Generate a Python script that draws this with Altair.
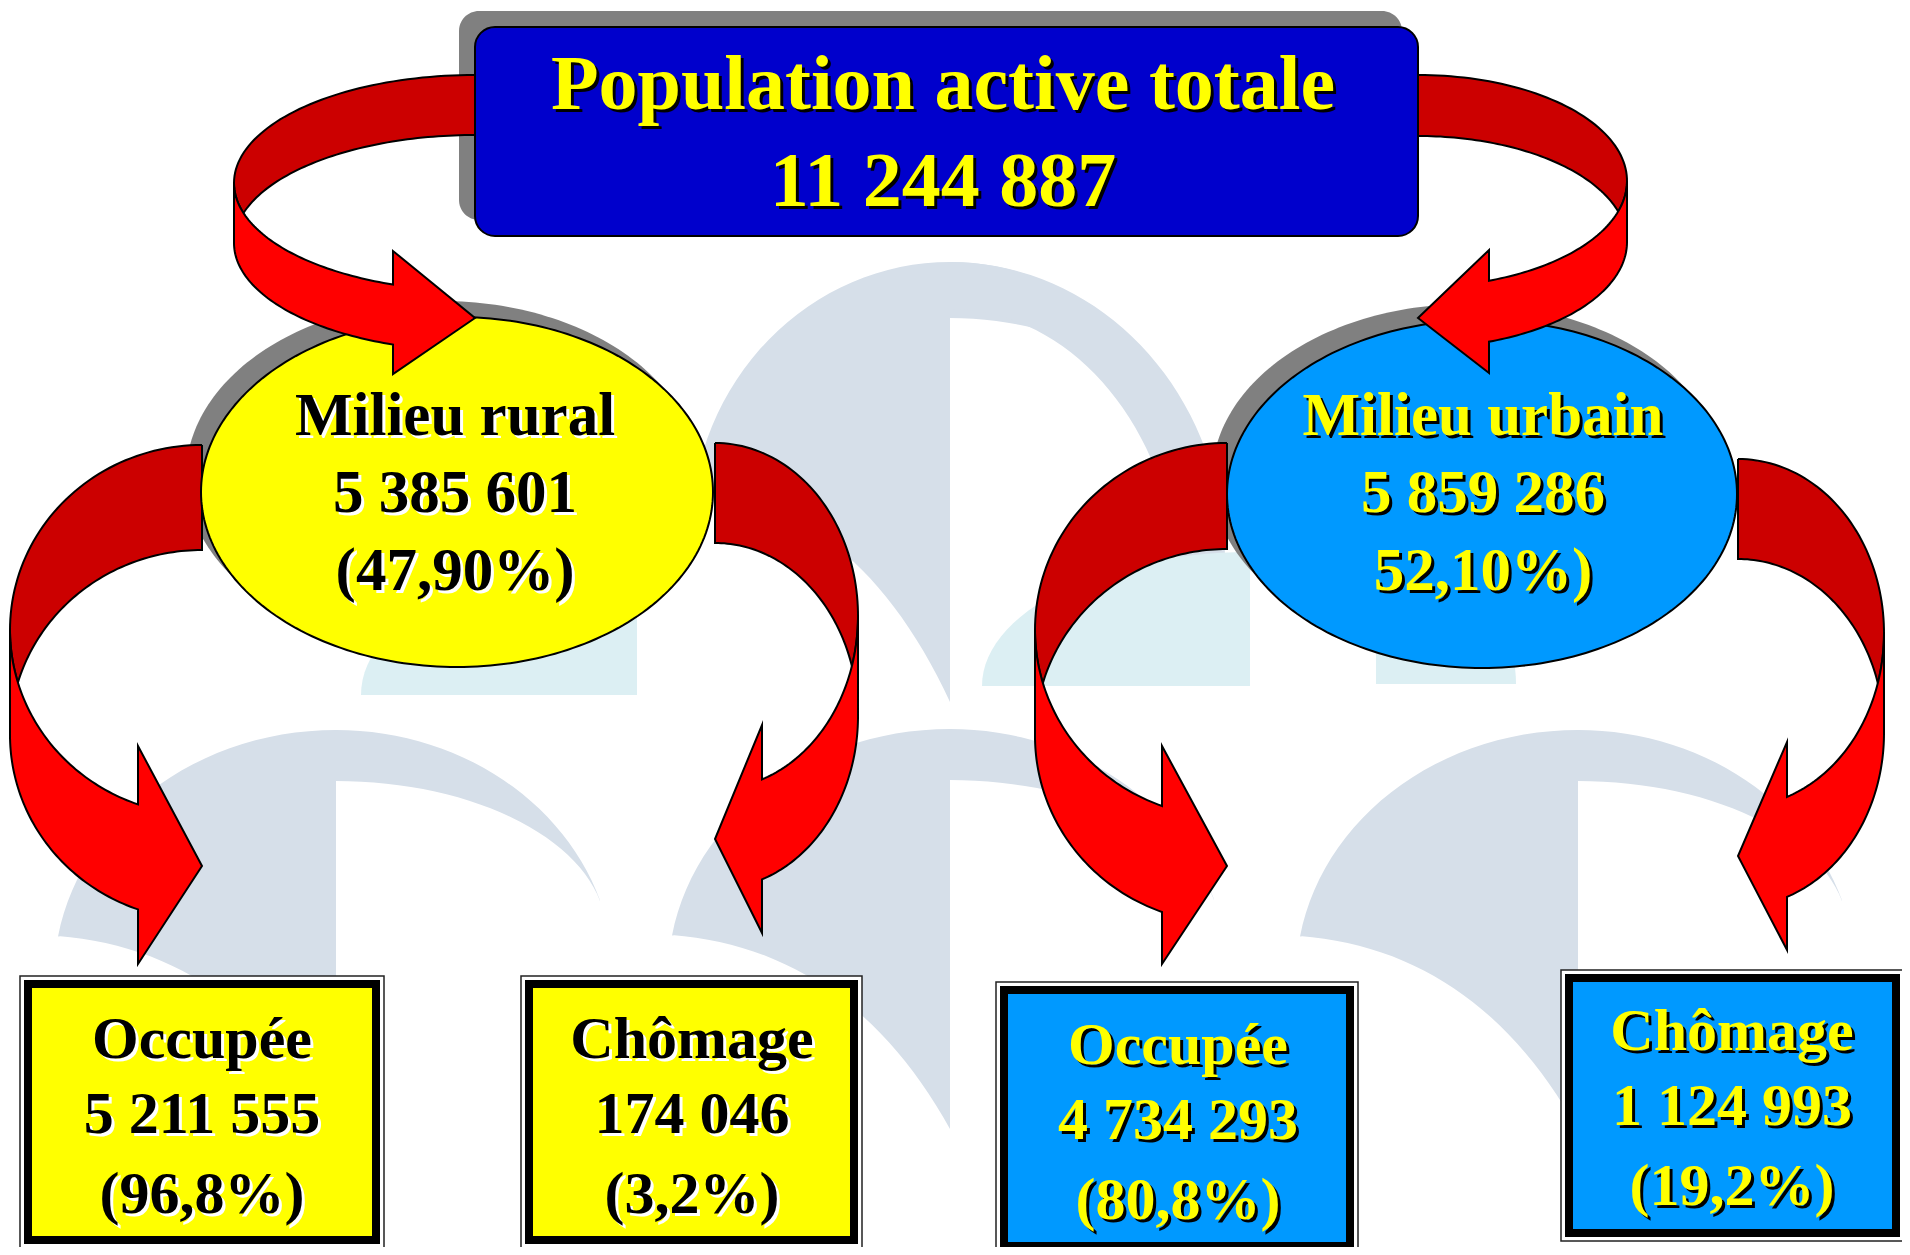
import altair as alt
import numpy as np
import pandas as pd

# ---------------- text content of the diagram ----------------
top_labels = ["Population active totale", "11 244 887"]
milieu_names = ["Milieu rural", "Milieu urbain"]
milieu_values = ["5 385 601", "5 859 286"]
milieu_shares = ["(47,90%)", "52,10%)"]
status_names = ["Occupée", "Chômage", "Occupée", "Chômage"]
status_values = ["5 211 555", "174 046", "4 734 293", "1 124 993"]
status_shares = ["(96,8%)", "(3,2%)", "(80,8%)", "(19,2%)"]

# ---------------- layout (page pixel coordinates) ----------------
YELLOW, SKY, NAVY = "#FFFF00", "#0099FF", "#0000CC"
DARKRED, RED, SHADOW = "#CC0000", "#FF0000", "#808080"
WM_GRAY, WM_CYAN = "#D6DFE9", "#DCEFF3"

top_box = dict(x0=475, x1=1418, y0=27, y1=236, shadow=(-16, -16))
ellipses = [dict(cx=457, cy=492, rx=256, ry=175, fill=YELLOW),
            dict(cx=1482, cy=494, rx=255, ry=174, fill=SKY)]
ell_shadow = (-15, -16)
boxes = [dict(x0=20, x1=384, y0=976, y1=1248, fill=YELLOW),
         dict(x0=521, x1=862, y0=976, y1=1248, fill=YELLOW),
         dict(x0=996, x1=1358, y0=982, y1=1254, fill=SKY),
         dict(x0=1561, x1=1904, y0=970, y1=1241, fill=SKY)]
# curved arrows: cx = attach/tip x, side = bulge direction
arrows = [
    dict(name="A", cx=475, side=-1, rx=241, ytop=75, c=183, t=60, bx=393, bt=251, bb=374, ty=318, top=True),
    dict(name="B", cx=1418, side=1, rx=209, ytop=75, c=181, t=61, bx=1489, bt=250, bb=373, ty=318, top=True),
    dict(name="C", cx=202, side=-1, rx=192, ytop=445, c=630, t=105, bx=138, bt=746, bb=964, ty=866, top=False),
    dict(name="D", cx=715, side=1, rx=143, ytop=443, c=616, t=100, bx=762, bt=725, bb=933, ty=839, top=False),
    dict(name="E", cx=1227, side=-1, rx=192, ytop=443, c=630, t=106, bx=1162, bt=746, bb=964, ty=866, top=False),
    dict(name="F", cx=1738, side=1, rx=146, ytop=459, c=633, t=100, bx=1787, bt=742, bb=950, ty=856, top=False),
]
# watermark logos: (cut x, top y, sx, sy)
logos = [(950, 262, 0.92, 1.1), (336, 730, 1.0, 1.0), (950, 729, 1.0, 1.0), (1578, 730, 1.0, 1.0)]
top_wing = dict(o=(950, 560, 275, 298), i=(950, 600, 230, 291), end=95)

# ---------------- geometry builders ----------------
poly_rows = []


def add_poly(layer, pid, pts, fill, stroke="transparent", sw=0.0):
    pts = list(pts) + [pts[0]]
    for i, (x, y) in enumerate(pts):
        poly_rows.append(dict(layer=layer, pid=pid, o=i, x=float(x), y=float(y),
                              fill=fill, stroke=stroke, sw=sw))


def ellipse_pts(cx, cy, rx, ry, n=240):
    a = np.linspace(0, 2 * np.pi, n, endpoint=False)
    return list(zip(cx + rx * np.cos(a), cy + ry * np.sin(a)))


def arrow_polys(a, n=60):
    cx, s, rx, c, t = a["cx"], a["side"], a["rx"], a["c"], a["t"]
    ry = c - a["ytop"]

    def E(cc, phi):
        return (cx + s * rx * np.sin(phi), cc - ry * np.cos(phi))

    phc = np.arccos(-t / (2 * ry))
    back = [E(c, p) for p in np.linspace(0, phc, n)]
    back += [E(c + t, p) for p in np.linspace(np.pi - phc, 0, n)]
    phb = np.pi - np.arcsin(s * (a["bx"] - cx) / rx)
    front = [E(c, p) for p in np.linspace(np.pi / 2, phb, n)]
    front += [(a["bx"], a["bt"]), (cx, a["ty"]), (a["bx"], a["bb"])]
    front += [E(c + t, p) for p in np.linspace(phb, np.pi / 2, n)]
    return back, front


def logo_pts(xv, yt, sx, sy, n=30):
    pts = []
    pL = np.arcsin(278 / 282)
    pts += [(-282 * np.sin(p), 248 - 248 * np.cos(p)) for p in np.linspace(pL, 0, n)]
    pR = np.arcsin(264 / 278)
    pts += [(278 * np.sin(p), 248 - 248 * np.cos(p)) for p in np.linspace(0, pR, n)]
    pT = np.arcsin(264 / 270)
    pts += [(270 * np.sin(p), 202.7 - 151.7 * np.cos(p)) for p in np.linspace(pT, 0, n)]
    for tt in np.linspace(0, 1, n):
        bx = 2 * (1 - tt) * tt * (-100) + tt ** 2 * (-278)
        by = (1 - tt) ** 2 * 400 + 2 * (1 - tt) * tt * 220 + tt ** 2 * 206
        pts.append((bx, by))
    return [(xv + sx * x, yt + sy * y) for x, y in pts]


def wing_pts(w, n=40):
    ocx, ocy, orx, ory = w["o"]
    icx, icy, irx, iry = w["i"]
    th = np.radians(np.linspace(0, w["end"], n))
    pts = [(ocx + orx * np.sin(v), ocy - ory * np.cos(v)) for v in th]
    pts += [(icx + irx * np.sin(v), icy - iry * np.cos(v)) for v in th[::-1]]
    return pts


def quarter(cx, cy, rx, ry, q0, q1, n=30):
    a = np.linspace(q0, q1, n)
    return [(cx + rx * np.cos(v), cy + ry * np.sin(v)) for v in a]


# watermark
for i, (xv, yt, sx, sy) in enumerate(logos):
    add_poly("wm", f"logo{i}", logo_pts(xv, yt, sx, sy), WM_GRAY)
add_poly("wm", "topwing", wing_pts(top_wing), WM_GRAY)
add_poly("wm", "cyanL", quarter(637, 695, 276, 140, np.pi, 1.5 * np.pi) + [(637, 695)], WM_CYAN)
add_poly("wm", "cyanR", quarter(1250, 686, 268, 134, np.pi, 1.5 * np.pi) + [(1250, 686)], WM_CYAN)
add_poly("wm", "cyanR2", quarter(1376, 684, 140, 134, 1.5 * np.pi, 2 * np.pi) + [(1376, 684)], WM_CYAN)

# ellipse shadows + ellipses
for i, e in enumerate(ellipses):
    add_poly("eshadow", f"es{i}", ellipse_pts(e["cx"] + ell_shadow[0], e["cy"] + ell_shadow[1], e["rx"], e["ry"]), SHADOW)
    add_poly("ell", f"e{i}", ellipse_pts(e["cx"], e["cy"], e["rx"], e["ry"]), e["fill"], "black", 2.0)

# arrows
for a in arrows:
    back, front = arrow_polys(a)
    lay = "arrow_top" if a["top"] else "arrow_low"
    add_poly(lay, a["name"] + "_back", back, DARKRED, "black", 2.0)
    add_poly(lay, a["name"] + "_front", front, RED, "black", 2.0)

polys = pd.DataFrame(poly_rows)

# rectangles
tb = top_box
rect_top = pd.DataFrame([
    dict(x=tb["x0"] + tb["shadow"][0], x2=tb["x1"] + tb["shadow"][0], y=tb["y0"] + tb["shadow"][1],
         y2=tb["y1"] + tb["shadow"][1], fill=SHADOW, stroke="transparent", sw=0.0, k=0),
    dict(x=tb["x0"], x2=tb["x1"], y=tb["y0"], y2=tb["y1"], fill=NAVY, stroke="black", sw=2.0, k=1),
])
brow = []
for b in boxes:
    brow.append(dict(x=b["x0"], x2=b["x1"], y=b["y0"], y2=b["y1"], fill="white", stroke="#222222", sw=1.5, k=0))
    brow.append(dict(x=b["x0"] + 4, x2=b["x1"] - 4, y=b["y0"] + 4, y2=b["y1"] - 4, fill="black", stroke="transparent", sw=0.0, k=1))
    brow.append(dict(x=b["x0"] + 12, x2=b["x1"] - 12, y=b["y0"] + 12, y2=b["y1"] - 12, fill=b["fill"], stroke="transparent", sw=0.0, k=2))
rect_boxes = pd.DataFrame(brow)

# texts
trows = []
for i, lab in enumerate(top_labels):
    trows.append(dict(text=lab, x=943, y=[109, 206][i], fs=78, col=YELLOW, sh="black"))
mx = [455, 1483]
mcol = [("black", "white"), (YELLOW, "black")]
for j in range(2):
    for k, lab in enumerate([milieu_names[j], milieu_values[j], milieu_shares[j]]):
        trows.append(dict(text=lab, x=mx[j], y=[435, 512, 590][k], fs=61, col=mcol[j][0], sh=mcol[j][1]))
bx_c = [202, 692, 1178, 1732]
by_c = [[1058, 1133, 1213], [1058, 1133, 1213], [1064, 1139, 1219], [1050, 1125, 1205]]
bcol = [("black", "white"), ("black", "white"), (YELLOW, "black"), (YELLOW, "black")]
for j in range(4):
    for k, lab in enumerate([status_names[j], status_values[j], status_shares[j]]):
        trows.append(dict(text=lab, x=bx_c[j], y=by_c[j][k], fs=60, col=bcol[j][0], sh=bcol[j][1]))
texts = pd.DataFrame(trows)

# ---------------- chart ----------------
W, H = 1894, 1239
xsc = alt.Scale(domain=[8, 1902], nice=False, zero=False)
ysc = alt.Scale(domain=[8, 1247], nice=False, zero=False, reverse=True)
X = lambda f="x": alt.X(f"{f}:Q", scale=xsc, axis=None)
Y = lambda f="y": alt.Y(f"{f}:Q", scale=ysc, axis=None)


def poly_layer(layer):
    d = polys[polys.layer == layer]
    return alt.Chart(d).mark_line(strokeJoin="miter", strokeMiterLimit=20).encode(
        x=X(), y=Y(), order="o:Q", detail="pid:N",
        fill=alt.Fill("fill:N", scale=None),
        stroke=alt.Stroke("stroke:N", scale=None),
        strokeWidth=alt.StrokeWidth("sw:Q", scale=None),
    )


def rect_layer(d, radius=0):
    return alt.Chart(d).mark_rect(cornerRadius=radius).encode(
        x=X(), x2="x2:Q", y=Y(), y2="y2:Q",
        fill=alt.Fill("fill:N", scale=None),
        stroke=alt.Stroke("stroke:N", scale=None),
        strokeWidth=alt.StrokeWidth("sw:Q", scale=None),
    )


def text_layer(colfield, d=0):
    return alt.Chart(texts).mark_text(font="Liberation Serif", fontWeight="bold", align="center",
                                      baseline="alphabetic", dx=d, dy=d).encode(
        x=X(), y=Y(), text="text:N",
        color=alt.Color(f"{colfield}:N", scale=None),
        size=alt.Size("fs:Q", scale=None),
    )


chart = alt.layer(
    poly_layer("wm"),
    rect_layer(rect_top[rect_top.k == 0], 20),
    poly_layer("eshadow"),
    poly_layer("arrow_low"),
    poly_layer("ell"),
    poly_layer("arrow_top"),
    rect_layer(rect_top[rect_top.k == 1], 20),
    rect_layer(rect_boxes[rect_boxes.k == 0]),
    rect_layer(rect_boxes[rect_boxes.k == 1]),
    rect_layer(rect_boxes[rect_boxes.k == 2]),
    text_layer("sh", 3),
    text_layer("col", 0),
).properties(
    width=W, height=H, padding=0, autosize=alt.AutoSizeParams(type="none"), background="white"
).configure_view(stroke=None)

chart.save("out.html", embed_options={"renderer": "svg", "actions": False})
